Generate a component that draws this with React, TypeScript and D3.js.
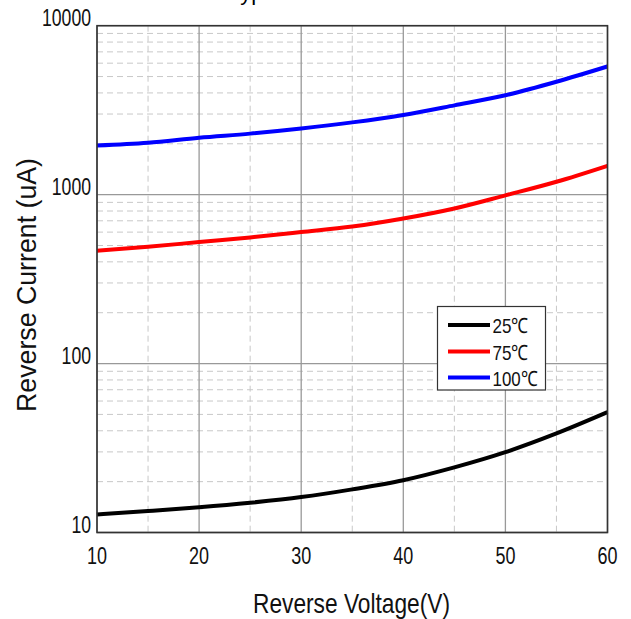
import React from 'react';
import * as d3 from 'd3';

// reverse voltage (V)
const voltage = [10, 15, 20, 25, 30, 35, 40, 45, 50, 55, 60];
// reverse current (uA) per temperature
const current25 = [12.8, 13.4, 14.1, 15.0, 16.2, 18.0, 20.4, 24.3, 29.9, 38.6, 51.6];
const current75 = [466, 491, 524, 558, 600, 647, 722, 828, 990, 1192, 1482];
const current100 = [1954, 2028, 2174, 2297, 2462, 2677, 2963, 3375, 3874, 4660, 5740];

const seriesNames = ['25℃', '75℃', '100℃'];
const seriesColors = ['#000000', '#ff0000', '#0000ff'];

const xTicks = [10, 20, 30, 40, 50, 60];
const xMinorTicks = [15, 25, 35, 45, 55];
const yTicks = [10, 100, 1000, 10000];

const W = 631;
const H = 619;
const plot = { left: 97, right: 607.5, top: 25.7, bottom: 532.5 };
const font = '"Liberation Sans", Arial, sans-serif';

export default function App() {
  const x = d3.scaleLinear().domain([10, 60]).range([plot.left, plot.right]);
  const y = d3.scaleLog().domain([10, 10000]).range([plot.bottom, plot.top]);

  const allSeries = [current25, current75, current100];

  const line = d3
    .line<number>()
    .x((_, i) => x(voltage[i]))
    .y((d) => y(d))
    .curve(d3.curveMonotoneX);

  // minor log grid values
  const yMinor: number[] = [];
  [10, 100, 1000].forEach((dec) => {
    for (let k = 2; k <= 9; k++) yMinor.push(dec * k);
  });

  const legend = { x: 437.5, y: 306.5, w: 108, h: 83.5 };
  const legendRows = [325, 351.5, 377.5];
  const legendTextY = [333, 359.5, 385.5];
  const legendTextLen = [36, 36, 45];

  return (
    <svg
      width={W}
      height={H}
      style={{ position: 'absolute', left: 0, top: 0, background: '#fff' }}
      fontFamily={font}
    >
      {/* title, cropped at the top edge like the source */}
      <text x={228} y={0} fontSize={22} fill="#000">
        Typical Reverse Characteristics
      </text>

      {/* minor grid */}
      <g stroke="#c8c8c8" strokeWidth={1} strokeDasharray="6,4">
        {yMinor.map((v) => (
          <line key={'ym' + v} x1={plot.left} x2={plot.right} y1={y(v)} y2={y(v)} />
        ))}
        {xMinorTicks.map((v) => (
          <line key={'xm' + v} x1={x(v)} x2={x(v)} y1={plot.top} y2={plot.bottom} />
        ))}
      </g>

      {/* major grid */}
      <g stroke="#999" strokeWidth={1.3}>
        {yTicks.map((v) => (
          <line key={'y' + v} x1={plot.left} x2={plot.right} y1={y(v)} y2={y(v)} />
        ))}
        {xTicks.map((v) => (
          <line key={'x' + v} x1={x(v)} x2={x(v)} y1={plot.top} y2={plot.bottom} />
        ))}
      </g>

      {/* curves */}
      {allSeries.map((s, i) => (
        <path
          key={seriesNames[i]}
          d={line(s) || ''}
          fill="none"
          stroke={seriesColors[i]}
          strokeWidth={4}
        />
      ))}

      {/* frame */}
      <rect
        x={plot.left}
        y={plot.top}
        width={plot.right - plot.left}
        height={plot.bottom - plot.top}
        fill="none"
        stroke="#333"
        strokeWidth={1.6}
      />

      {/* y tick labels */}
      {yTicks.map((v) => {
        const label = String(v);
        const len = label.length * 9.8;
        return (
          <text
            key={'yl' + v}
            x={91 - len}
            y={y(v)}
            fontSize={23}
            textLength={len}
            lengthAdjust="spacingAndGlyphs"
            fill="#111"
          >
            {label}
          </text>
        );
      })}

      {/* x tick labels */}
      {xTicks.map((v) => {
        const label = String(v);
        const len = label.length * 10;
        return (
          <text
            key={'xl' + v}
            x={x(v) - len / 2}
            y={564}
            fontSize={23}
            textLength={len}
            lengthAdjust="spacingAndGlyphs"
            fill="#111"
          >
            {label}
          </text>
        );
      })}

      {/* axis titles */}
      <text
        x={253}
        y={613}
        fontSize={28}
        textLength={197}
        lengthAdjust="spacingAndGlyphs"
        fill="#111"
      >
        Reverse Voltage(V)
      </text>
      <text
        transform="translate(36,412) rotate(-90)"
        x={0}
        y={0}
        fontSize={28}
        textLength={254}
        lengthAdjust="spacingAndGlyphs"
        fill="#111"
      >
        Reverse Current (uA)
      </text>

      {/* legend */}
      <rect
        x={legend.x}
        y={legend.y}
        width={legend.w}
        height={legend.h}
        fill="#fff"
        stroke="#333"
        strokeWidth={1.2}
      />
      {seriesNames.map((name, i) => (
        <g key={'lg' + name}>
          <line
            x1={448}
            x2={490}
            y1={legendRows[i]}
            y2={legendRows[i]}
            stroke={seriesColors[i]}
            strokeWidth={4}
          />
          <text
            x={492.5}
            y={legendTextY[i]}
            fontSize={21}
            textLength={legendTextLen[i]}
            lengthAdjust="spacingAndGlyphs"
            fill="#111"
          >
            {name}
          </text>
        </g>
      ))}
    </svg>
  );
}
